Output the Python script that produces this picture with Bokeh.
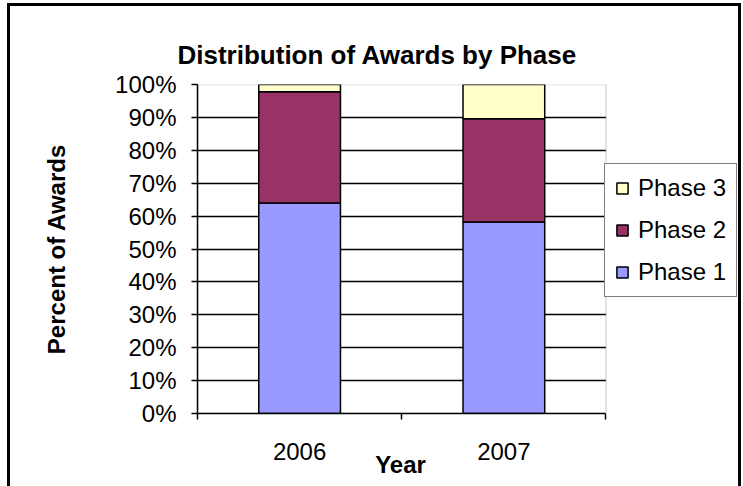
from bokeh.plotting import figure
from bokeh.models import (ColumnDataSource, Range1d, FixedTicker, PrintfTickFormatter,
                          Legend, LegendItem, LinearAxis, BoxAnnotation, Title)
from bokeh.embed import file_html
from bokeh.resources import INLINE

years = ["2006", "2007"]
phase1 = [64.0, 58.2]
phase2 = [33.8, 31.4]
phase3 = [2.2, 10.4]
y_ticks = [0, 10, 20, 30, 40, 50, 60, 70, 80, 90, 100]

colors = ["#9999FF", "#993366", "#FFFFCC"]
FONT = "Liberation Sans"

n = len(years)
xs = [i + 0.5 for i in range(n)]
src = ColumnDataSource(dict(x=xs, p1=phase1, p2=phase2, p3=phase3))

# the frame is widened to the right so the legend can sit beside the plot area
X_MAX = n * 540 / 404

p = figure(width=734, height=483, x_range=Range1d(0, X_MAX), y_range=Range1d(0, 100),
           output_backend="svg", toolbar_location=None,
           min_border_left=187, min_border_right=1, min_border_top=78, min_border_bottom=76,
           margin=(3, 0, 0, 7))
p.styles = {"border-top": "3px solid black", "border-left": "3px solid black",
            "border-right": "3px solid black", "box-sizing": "border-box"}

rs = p.vbar_stack(["p1", "p2", "p3"], x="x", width=0.4, source=src, color=colors,
                  line_color="black", line_width=1.5)

p.outline_line_color = None
p.background_fill_color = "white"
p.border_fill_color = "white"

p.xgrid.visible = False
p.ygrid.ticker = FixedTicker(ticks=y_ticks[1:-1])
p.ygrid.grid_line_color = "black"
p.ygrid.grid_line_width = 1.5

# blank out the grid beside the plot area, then draw the grey plot-area border
p.add_layout(BoxAnnotation(left=n, fill_color="white", fill_alpha=1, line_color=None,
                           level="underlay"))
p.add_layout(BoxAnnotation(left=0, right=n, bottom=0, top=100, fill_alpha=0,
                           line_color="#808080", line_width=1.5, level="underlay"))

yax = p.left[0]
yax.ticker = FixedTicker(ticks=y_ticks)
yax.formatter = PrintfTickFormatter(format="%d%%")
yax.major_tick_out = 6
yax.major_tick_in = 0
yax.minor_tick_line_color = None
yax.axis_line_width = 1.5
yax.major_tick_line_width = 1.5
yax.axis_line_color = "black"
yax.major_tick_line_color = "black"
yax.major_label_text_color = "black"
yax.major_label_text_font = FONT
yax.major_label_text_font_size = "24px"
yax.major_label_standoff = 15
yax.axis_label = "Percent of Awards"
yax.axis_label_text_color = "black"
yax.axis_label_text_font = FONT
yax.axis_label_text_font_size = "24px"
yax.axis_label_text_font_style = "bold"
yax.axis_label_standoff = 42

xax = p.below[0]
xax.bounds = (0, n)
xax.ticker = FixedTicker(ticks=xs, minor_ticks=list(range(n + 1)))
xax.major_label_overrides = {x: y for x, y in zip(xs, years)}
xax.major_tick_out = 0
xax.major_tick_in = 0
xax.minor_tick_out = 6
xax.minor_tick_in = 0
xax.minor_tick_line_color = "black"
xax.minor_tick_line_width = 1.5
xax.axis_line_width = 1.5
xax.axis_line_color = "black"
xax.major_label_text_color = "black"
xax.major_label_text_font = FONT
xax.major_label_text_font_size = "24px"
xax.major_label_standoff = 23
# trailing no-break spaces move the centred label over the plot area's centre
xax.axis_label = "Year" + "\u00a0" * 21
xax.axis_label_text_color = "black"
xax.axis_label_text_font = FONT
xax.axis_label_text_font_size = "24px"
xax.axis_label_text_font_style = "bold"
xax.axis_label_standoff = -12

# title: built-in one left empty, real title stacked outside an invisible spacer axis
p.title.text = ""
p.title.standoff = 0
p.add_layout(Title(text="Distribution of Awards by Phase", text_font=FONT,
                   text_font_size="26px", text_font_style="bold", text_color="black",
                   align="left", offset=-20, standoff=30), "above")
spacer = LinearAxis(ticker=FixedTicker(ticks=[1]), axis_line_color=None,
                    major_tick_line_color="white", minor_tick_line_color=None,
                    major_tick_out=16, major_tick_in=0, major_label_standoff=0,
                    major_label_text_font_size="0px", major_label_overrides={1: ""})
p.add_layout(spacer, "above")

legend = Legend(items=[LegendItem(label="Phase 3", renderers=[rs[2]]),
                       LegendItem(label="Phase 2", renderers=[rs[1]]),
                       LegendItem(label="Phase 1", renderers=[rs[0]])],
                location=(407, 116))
legend.margin = 0
legend.padding = 10
legend.spacing = 14
legend.label_text_color = "black"
legend.label_text_font = FONT
legend.label_text_font_size = "24px"
legend.label_height = 27
legend.glyph_width = 14
legend.glyph_height = 14
legend.label_standoff = 9
legend.border_line_color = "black"
legend.border_line_width = 1.5
legend.background_fill_alpha = 1
p.add_layout(legend, "center")

open("out.html", "w").write(file_html(p, INLINE))
